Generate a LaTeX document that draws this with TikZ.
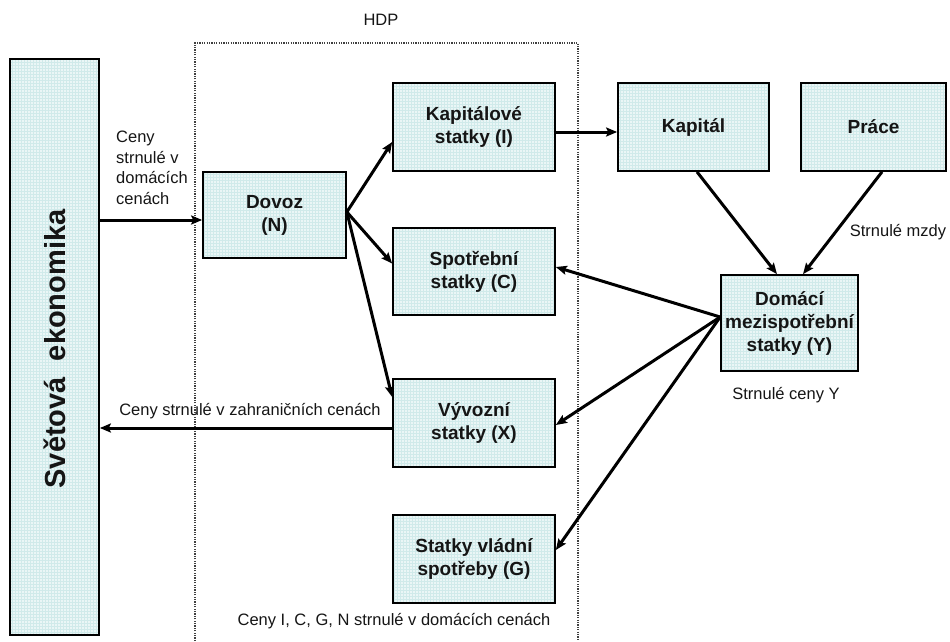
\documentclass[tikz,border=0pt]{standalone}
\usepackage{fontspec}
\setmainfont{Liberation Sans}
\usetikzlibrary{arrows.meta}
\definecolor{boxfill}{HTML}{EAF6F6}
\definecolor{boxgrid}{HTML}{D0EAEA}
\definecolor{inkcol}{HTML}{151515}
\tikzset{
  gbox/.style={draw=black, line width=1.7pt, fill=boxfill, align=center,
    text=inkcol, font=\fontsize{19}{23}\selectfont\bfseries, inner sep=0pt,
    path picture={\draw[boxgrid, line width=0.35pt, step=3pt]
      (path picture bounding box.south west) grid (path picture bounding box.north east);}},
  flow/.style={line width=3pt, -{Stealth[length=11pt,width=9pt,inset=2pt]}},
  lbl/.style={font=\fontsize{16.5}{20.5}\selectfont, text=inkcol, inner sep=0pt},
  hdpframe/.style={draw=black!75, line width=1.2pt, dash pattern=on 1.2pt off 1.2pt},
}
\begin{document}
\begin{tikzpicture}[x=1pt, y=-1pt]
\useasboundingbox (0,0) rectangle (950,641);

% GDP frame (open at the bottom edge)
\draw[hdpframe] (195,641) -- (195,43) -- (578,43) -- (578,641);
\node[lbl] (hdp) at (381,20) {HDP};

% boxes
\node[gbox, minimum width=89pt, minimum height=576pt] (sve) at (54.5,347) {};
\node[rotate=90, font=\fontsize{29}{31}\selectfont\bfseries, text=inkcol] (svetxt) at (55,349) {Světová~ ekonomika};
\node[gbox, minimum width=143pt, minimum height=86pt] (dovoz) at (274.5,215) {Dovoz\\(N)};
\node[gbox, minimum width=162pt, minimum height=88pt] (kapI) at (474,127) {Kapitálové\\statky (I)};
\node[gbox, minimum width=162pt, minimum height=87pt] (spotr) at (474,271.5) {Spotřební\\statky (C)};
\node[gbox, minimum width=162pt, minimum height=88pt] (vyvoz) at (474,423) {Vývozní\\statky (X)};
\node[gbox, minimum width=162pt, minimum height=88pt] (vlad) at (474,559) {Statky vládní\\spotřeby (G)};
\node[gbox, minimum width=151pt, minimum height=88pt] (kapital) at (693.5,127) {Kapitál};
\node[gbox, minimum width=145pt, minimum height=88pt] (prace) at (873.5,127) {Práce};
\node[gbox, minimum width=137pt, minimum height=96pt] (domaci) at (789.5,323) {Domácí\\mezispotřební\\statky (Y)};

% connection points
\coordinate (dOut) at ([yshift=3pt]dovoz.east);
\coordinate (dIn) at ([yshift=-5pt]dovoz.west);
\coordinate (yOut) at ([yshift=6pt]domaci.west);
\coordinate (xOut) at ([yshift=-5pt]vyvoz.west);
\coordinate (iOut) at ([yshift=-5pt]kapI.east);

% connectors
\draw[flow] (sve.east |- dIn) -- (dIn);
\draw[flow] (dOut) -- ([yshift=-15pt]kapI.west);
\draw[flow] (dOut) -- ([yshift=8pt]spotr.west);
\draw[flow] (dOut) -- ([yshift=26pt]vyvoz.west);
\draw[flow] (iOut) -- (kapital.west |- iOut);
\draw[flow] ([xshift=3.5pt]kapital.south) -- ([xshift=-12.5pt]domaci.north);
\draw[flow] ([xshift=8.5pt]prace.south) -- ([xshift=13.5pt]domaci.north);
\draw[flow] (yOut) -- ([yshift=4.5pt]spotr.east);
\draw[flow] (yOut) -- ([yshift=-2pt]vyvoz.east);
\draw[flow] (yOut) -- ([yshift=9pt]vlad.east);
\draw[flow] (xOut) -- (sve.east |- xOut);

% labels
\node[lbl, anchor=north west, align=left] (lDovoz) at (116,131) {Ceny\\strnulé v\\domácích\\cenách};
\node[lbl] (lVyvoz) at (250,411) {Ceny strnulé v zahraničních cenách};
\node[lbl] (lMzdy) at (898,232) {Strnulé mzdy};
\node[lbl] (lCenyY) at (786,395) {Strnulé ceny Y};
\node[lbl] (lDom) at (394,621) {Ceny I, C, G, N strnulé v domácích cenách};
\end{tikzpicture}
\end{document}
